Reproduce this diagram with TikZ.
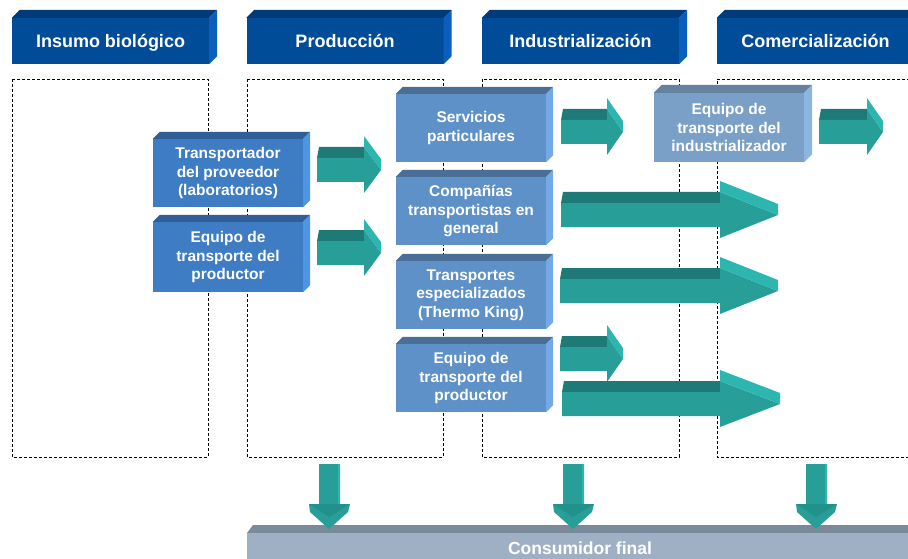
\documentclass[tikz,border=0pt]{standalone}
\usepackage{fontspec}
\setmainfont{Liberation Sans}
\usetikzlibrary{calc, positioning}

\definecolor{hdrfront}{HTML}{004C99}
\definecolor{hdrtop}{HTML}{003A78}
\definecolor{hdrside}{HTML}{0A5EBC}
\definecolor{prodfront}{HTML}{3E7CC4}
\definecolor{prodtop}{HTML}{2F5F96}
\definecolor{prodside}{HTML}{4E96E4}
\definecolor{indfront}{HTML}{5E91C7}
\definecolor{indtop}{HTML}{4B6E96}
\definecolor{indside}{HTML}{72A9E6}
\definecolor{comfront}{HTML}{7AA0C8}
\definecolor{comtop}{HTML}{66809F}
\definecolor{comside}{HTML}{8DB5E2}
\definecolor{barfront}{HTML}{A0B0C4}
\definecolor{bartop}{HTML}{7B8A9A}
\definecolor{tealface}{HTML}{289E99}
\definecolor{tealtop}{HTML}{1E7A76}
\definecolor{teallight}{HTML}{2DB5AF}
\definecolor{tealdark}{HTML}{22918C}

\tikzset{
  stage/.style={fill=hdrfront, text=white, inner sep=0pt,
    minimum width=197pt, minimum height=46pt,
    text height=13pt, text depth=0pt,
    font=\fontsize{18}{21}\selectfont\bfseries},
  carrier/.style={text=white, inner sep=0pt, align=center,
    minimum width=150pt, minimum height=68pt,
    font=\fontsize{15.5}{18.5}\selectfont\bfseries},
  lane/.style={draw=black, line width=0.8pt, dash pattern=on 3pt off 2pt},
}

% top and side faces of a box node: node, depth, top colour, side colour
\newcommand{\faces}[4]{%
  \fill[#3] (#1.north west) -- ([shift={(#2,-#2)}]#1.north west)
    -- ([shift={(#2,-#2)}]#1.north east) -- (#1.north east) -- cycle;
  \fill[#4] (#1.north east) -- ([shift={(#2,-#2)}]#1.north east)
    -- ([shift={(#2,-#2)}]#1.south east) -- (#1.south east) -- cycle;
}

% block arrow to the right: start x, head base x, tip x, middle y
\newcommand{\flowarrow}[4]{%
  \fill[tealtop] (#1,#4-12) -- (#1+2,#4-23) -- (#2,#4-23) -- (#2,#4-12) -- cycle;
  \fill[tealface] (#1,#4-12) -- (#2,#4-12) -- (#2,#4-23) -- (#3,#4)
    -- (#2,#4+23) -- (#2,#4+12) -- (#1,#4+12) -- cycle;
  \fill[teallight] (#2,#4-23) -- (#2,#4-34) -- (#3,#4-11) -- (#3,#4) -- cycle;
}

% block arrow downwards: middle x
\newcommand{\droparrow}[1]{%
  \fill[tealface] (#1-10,464) -- (#1+11,464) -- (#1+11,504) -- (#1+21,504)
    -- (#1+19,512) -- (#1,529) -- (#1-19,512) -- (#1-20,504) -- (#1-10,504) -- cycle;
  \fill[tealdark] (#1-20,504) -- (#1,517) -- (#1+21,504) -- cycle;
  \fill[teallight] (#1+9,464) -- (#1+11,464) -- (#1+11,504) -- (#1+9,504) -- cycle;
}

\begin{document}
\begin{tikzpicture}[x=1pt, y=-1pt]
  \useasboundingbox (0,0) rectangle (908,559);
  \clip (0,0) rectangle (908,559);

  % lanes
  \draw[lane] (12,79) rectangle (208,457);
  \draw[lane] (247,79) rectangle (443,457);
  \draw[lane] (482,79) rectangle (679,457);
  \draw[lane] (930,79) -- (717,79) -- (717,457) -- (930,457);

  % stage headers
  \node[stage] (insumo) at (110.5,41) {Insumo biológico};
  \node[stage] (prod) at (345,41) {Producción};
  \node[stage] (indus) at (580.5,41) {Industrialización};
  \node[stage] (comer) at (815.5,41) {Comercialización};
  \foreach \n in {insumo,prod,indus,comer} {\faces{\n}{8}{hdrtop}{hdrside}}

  % producción
  \node[carrier, fill=prodfront] (prov) at (228,173) {Transportador\\del proveedor\\(laboratorios)};
  \node[carrier, fill=prodfront, minimum height=70pt] (prodeq) at (228,257) {Equipo de\\transporte del\\productor};
  \foreach \n in {prov,prodeq} {\faces{\n}{7}{prodtop}{prodside}}

  % industrialización
  \node[carrier, fill=indfront] (serv) at (471,128) {Servicios\\particulares};
  \node[carrier, fill=indfront] (comp) at (471,211) {Compañías\\transportistas en\\general};
  \node[carrier, fill=indfront] (thermo) at (471,295) {Transportes\\especializados\\(Thermo King)};
  \node[carrier, fill=indfront] (indeq) at (471,378) {Equipo de\\transporte del\\productor};
  \foreach \n in {serv,comp,thermo,indeq} {\faces{\n}{7}{indtop}{indside}}

  % comercialización
  \node[carrier, fill=comfront, minimum height=69pt] (comeq) at (729,127.5) {Equipo de\\transporte del\\industrializador};
  \faces{comeq}{8}{comtop}{comside}

  % arrows
  \flowarrow{317}{364}{381}{170}
  \flowarrow{317}{364}{381}{253}
  \flowarrow{561}{607}{623}{132}
  \flowarrow{561}{720}{778}{215}
  \flowarrow{560}{720}{778}{291}
  \flowarrow{560}{607}{623}{359}
  \flowarrow{562}{720}{780}{404}
  \flowarrow{819}{867}{883}{132}

  % consumidor final
  \fill[bartop] (247,533) -- (253,525) -- (930,525) -- (930,533) -- cycle;
  \fill[barfront] (247,533) rectangle (930,570);
  \node[text=white, font=\fontsize{17.5}{20}\selectfont\bfseries] (cons) at (580,548) {Consumidor final};
  \foreach \x in {329,573,816} {\droparrow{\x}}
\end{tikzpicture}
\end{document}
